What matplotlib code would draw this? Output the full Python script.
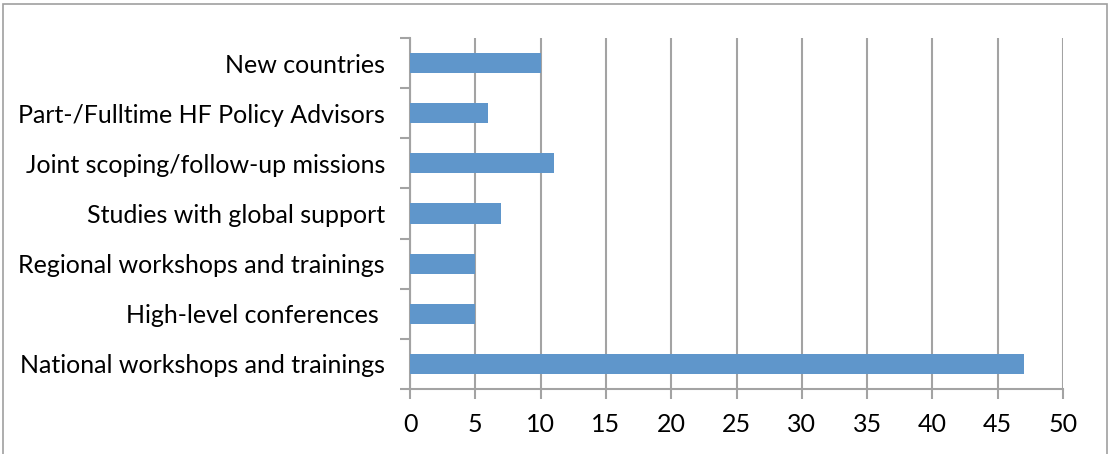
import matplotlib.pyplot as plt
from matplotlib.patches import Rectangle
import numpy as np

categories = ['National workshops and trainings', 'High-level conferences ',
              'Regional workshops and trainings', 'Studies with global support',
              'Joint scoping/follow-up missions', 'Part-/Fulltime HF Policy Advisors',
              'New countries']
values = [47, 5, 5, 7, 11, 6, 10]
x_ticks = [0, 5, 10, 15, 20, 25, 30, 35, 40, 45, 50]

plt.rcParams['font.family'] = ['Lato', 'DejaVu Sans']
grid_col = '#A3A3A3'

fig = plt.figure(figsize=(11.09, 4.54), dpi=100)
ax = fig.add_axes([410 / 1109, 1 - 389 / 454, 653 / 1109, 351 / 454])

y = np.arange(len(categories))
ax.barh(y, values, height=0.4, color='#5F96CB', zorder=3)

ax.set_xlim(0, 50)
ax.set_ylim(-0.5, len(categories) - 0.5)
ax.set_xticks(x_ticks)
ax.set_xticklabels([str(t) for t in x_ticks], fontsize=18)
ax.set_yticks(y)
ax.set_yticklabels(categories, fontsize=18)
ax.set_yticks(np.arange(len(categories) + 1) - 0.5, minor=True)

ax.grid(axis='x', color=grid_col, linewidth=1.5, zorder=0)
ax.tick_params(axis='x', which='major', length=7, width=1.5, color=grid_col, pad=10)
ax.tick_params(axis='y', which='major', length=0, pad=18)
ax.tick_params(axis='y', which='minor', length=7, width=1.5, color=grid_col)

for side in ['top', 'right']:
    ax.spines[side].set_visible(False)
for side in ['left', 'bottom']:
    ax.spines[side].set_color(grid_col)
    ax.spines[side].set_linewidth(1.5)

# outer chart border
fig.patches.append(Rectangle((3 / 1109, -0.05), 1104 / 1109, 1 - 4 / 454 + 0.05,
                             transform=fig.transFigure, fill=False,
                             edgecolor='#A0A0A0', linewidth=1.2))

plt.savefig('out.png', dpi=100)
plt.close()
